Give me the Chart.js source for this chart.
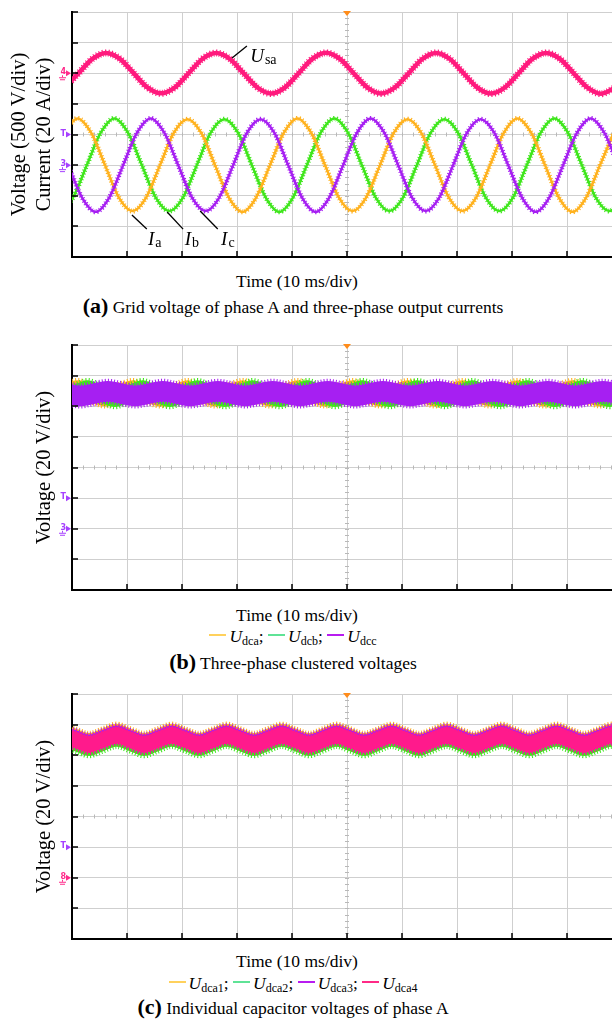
<!DOCTYPE html>
<html lang="en">
<head>
  <meta charset="UTF-8">
  <title>Grid voltage, output currents and capacitor voltages</title>
  <style>
    html, body {
      margin: 0;
      padding: 0;
      background: #fff;
      overflow: hidden;
    }

    #page {
      position: relative;
      width: 612px;
      height: 1024px;
      overflow: hidden;
    }

    .panel {
      position: absolute;
      left: 0;
      width: 622px;
      height: 262px;
    }

    /* text under each scope picture */
    .txt {
      position: absolute;
      left: 0;
      width: 586px;
      text-align: center;
      font-family: 'Liberation Serif', serif;
      font-size: 17.5px;
      line-height: 20px;
      color: #000;
      white-space: nowrap;
    }
    .txt.time { width: 594px; }
    .txt b { font-size: 22px; }
    .txt sub { font-size: 12px; vertical-align: -3px; line-height: 0; }
    .sw {
      display: inline-block;
      width: 17px;
      height: 2px;
      vertical-align: 6px;
      margin-right: 3px;
    }
  </style>
</head>
<body>

<div id="page">
  <div class="panel" style="top:0"><canvas id="chartA" width="622" height="262"></canvas></div>
  <div class="txt time" style="top:271px">Time (10 ms/div)</div>
  <div class="txt" style="top:296px"><b>(a)</b> Grid voltage of phase A and three-phase output currents</div>

  <div class="panel" style="top:333px"><canvas id="chartB" width="622" height="262"></canvas></div>
  <div class="txt time" style="top:605px">Time (10 ms/div)</div>
  <div class="txt" style="top:626px"><span class="sw" style="background:#ffd15c"></span><i>U</i><sub>dca</sub>; <span class="sw" style="background:#5fe396"></span><i>U</i><sub>dcb</sub>; <span class="sw" style="background:#b81cf0"></span><i>U</i><sub>dcc</sub></div>
  <div class="txt" style="top:652px"><b>(b)</b> Three-phase clustered voltages</div>

  <div class="panel" style="top:682px"><canvas id="chartC" width="622" height="262"></canvas></div>
  <div class="txt time" style="top:951px">Time (10 ms/div)</div>
  <div class="txt" style="top:973px"><span class="sw" style="background:#ffd15c"></span><i>U</i><sub>dca1</sub>; <span class="sw" style="background:#5fe396"></span><i>U</i><sub>dca2</sub>; <span class="sw" style="background:#b81cf0"></span><i>U</i><sub>dca3</sub>; <span class="sw" style="background:#ff2a86"></span><i>U</i><sub>dca4</sub></div>
  <div class="txt" style="top:997px"><b>(c)</b> Individual capacitor voltages of phase A</div>
</div>

<script src="https://cdn.jsdelivr.net/npm/chart.js"></script>

<script>
  // ---- (a) grid voltage (V) and output currents (A), time in ms ----
  var usaTime = [-1.3, 1.2, 3.7, 6.2, 8.7, 11.2, 13.7, 16.2, 18.7, 21.2, 23.7, 26.2, 28.7, 31.2, 33.7, 36.2,
    38.7, 41.2, 43.7, 46.2, 48.7, 51.2, 53.7, 56.2, 58.7, 61.2, 63.7, 66.2, 68.7, 71.2, 73.7, 76.2,
    78.7, 81.2, 83.7, 86.2, 88.7, 91.2, 93.7, 96.2, 98.7];
  var usaVolts = [-232, 0, 234, 332, 235, 2, -231, -328,
    -232, -1, 233, 330, 233, 0, -233, -331,
    -234, 0, 235, 333, 234, 1, -232, -330,
    -233, -2, 233, 331, 233, 0, -234, -332,
    -233, 0, 234, 332, 235, 1, -233, -334,
    -236];

  var iaTime = [-1.5, 1, 3.5, 6, 8.5, 11, 13.5, 16, 18.5, 21, 23.5, 26, 28.5, 31, 33.5, 36,
    38.5, 41, 43.5, 46, 48.5, 51, 53.5, 56, 58.5, 61, 63.5, 66, 68.5, 71, 73.5, 76,
    78.5, 81, 83.5, 86, 88.5, 91, 93.5, 96, 98.5];
  var iaAmps = [21, 30.5, 21, 0, -21, -30, -21, 0,
    21, 30, 21, 0, -21, -30.5, -21, 0,
    21, 30.5, 21, 0, -21, -30, -21, 0,
    21, 30, 21, 0, -21, -30, -21, 0,
    21, 30.5, 21, 0, -21, -30.5, -21, 0,
    21];

  var ibTime = [-2.3, 0.2, 2.7, 5.2, 7.7, 10.2, 12.7, 15.2, 17.7, 20.2, 22.7, 25.2, 27.7, 30.2, 32.7, 35.2,
    37.7, 40.2, 42.7, 45.2, 47.7, 50.2, 52.7, 55.2, 57.7, 60.2, 62.7, 65.2, 67.7, 70.2, 72.7, 75.2,
    77.7, 80.2, 82.7, 85.2, 87.7, 90.2, 92.7, 95.2, 97.7, 100.2];
  var ibAmps = [-30, -21, 0, 21, 30.5, 21, 0, -21,
    -30, -21, 0, 21, 30, 21, 0, -21,
    -30.5, -21, 0, 21, 30.5, 21, 0, -21,
    -30, -21, 0, 21, 30, 21, 0, -21,
    -30, -21, 0, 21, 30.5, 21, 0, -21,
    -30, -21];

  var icTime = [-0.7, 1.8, 4.3, 6.8, 9.3, 11.8, 14.3, 16.8, 19.3, 21.8, 24.3, 26.8, 29.3, 31.8, 34.3, 36.8,
    39.3, 41.8, 44.3, 46.8, 49.3, 51.8, 54.3, 56.8, 59.3, 61.8, 64.3, 66.8, 69.3, 71.8, 74.3, 76.8,
    79.3, 81.8, 84.3, 86.8, 89.3, 91.8, 94.3, 96.8, 99.3];
  var icAmps = [0, -21, -30.5, -21, 0, 21, 30.5, 21,
    0, -21, -30, -21, 0, 21, 30, 21,
    0, -21, -30.5, -21, 0, 21, 30.5, 21,
    0, -21, -30, -21, 0, 21, 30, 21,
    0, -21, -30.5, -21, 0, 21, 30.5, 21,
    0];

  // ---- (b) clustered voltages: upper / lower edge of each noisy trace (V) ----
  var udcaTime = [-1.5, 1, 3.5, 6, 8.5, 11, 13.5, 16, 18.5, 21, 23.5, 26, 28.5, 31, 33.5, 36,
    38.5, 41, 43.5, 46, 48.5, 51, 53.5, 56, 58.5, 61, 63.5, 66, 68.5, 71, 73.5, 76,
    78.5, 81, 83.5, 86, 88.5, 91, 93.5, 96, 98.5];
  var udcaHigh = [94.5, 97, 94.5, 92, 94.5, 97, 94.5, 92, 94.5, 97, 94.5, 92, 94.5, 97, 94.5, 92,
    94.5, 97, 94.5, 92, 94.5, 97, 94.5, 92, 94.5, 97, 94.5, 92, 94.5, 97, 94.5, 92,
    94.5, 97, 94.5, 92, 94.5, 97, 94.5, 92, 94.5];
  var udcaLow = [82.5, 85, 82.5, 80, 82.5, 85, 82.5, 80, 82.5, 85, 82.5, 80, 82.5, 85, 82.5, 80,
    82.5, 85, 82.5, 80, 82.5, 85, 82.5, 80, 82.5, 85, 82.5, 80, 82.5, 85, 82.5, 80,
    82.5, 85, 82.5, 80, 82.5, 85, 82.5, 80, 82.5];

  var udcbTime = [-2.2, 0.3, 2.8, 5.3, 7.8, 10.3, 12.8, 15.3, 17.8, 20.3, 22.8, 25.3, 27.8, 30.3, 32.8, 35.3,
    37.8, 40.3, 42.8, 45.3, 47.8, 50.3, 52.8, 55.3, 57.8, 60.3, 62.8, 65.3, 67.8, 70.3, 72.8, 75.3,
    77.8, 80.3, 82.8, 85.3, 87.8, 90.3, 92.8, 95.3, 97.8, 100.3];
  var udcbHigh = [91.5, 94, 97, 94, 91.5, 94, 97, 94, 91.5, 94, 97, 94, 91.5, 94, 97, 94,
    91.5, 94, 97, 94, 91.5, 94, 97, 94, 91.5, 94, 97, 94, 91.5, 94, 97, 94,
    91.5, 94, 97, 94, 91.5, 94, 97, 94, 91.5, 94];
  var udcbLow = [79.5, 82.5, 86, 82.5, 79.5, 82.5, 86, 82.5, 79.5, 82.5, 86, 82.5, 79.5, 82.5, 86, 82.5,
    79.5, 82.5, 86, 82.5, 79.5, 82.5, 86, 82.5, 79.5, 82.5, 86, 82.5, 79.5, 82.5, 86, 82.5,
    79.5, 82.5, 86, 82.5, 79.5, 82.5, 86, 82.5, 79.5, 82.5];

  var udccTime = [-1, 1.5, 4, 6.5, 9, 11.5, 14, 16.5, 19, 21.5, 24, 26.5, 29, 31.5, 34, 36.5,
    39, 41.5, 44, 46.5, 49, 51.5, 54, 56.5, 59, 61.5, 64, 66.5, 69, 71.5, 74, 76.5,
    79, 81.5, 84, 86.5, 89, 91.5, 94, 96.5, 99];
  var udccHigh = [95, 93.5, 95, 96.5, 95, 93.5, 95, 96.5, 95, 93.5, 95, 96.5, 95, 93.5, 95, 96.5,
    95, 93.5, 95, 96.5, 95, 93.5, 95, 96.5, 95, 93.5, 95, 96.5, 95, 93.5, 95, 96.5,
    95, 93.5, 95, 96.5, 95, 93.5, 95, 96.5, 95];
  var udccLow = [81.5, 80, 81.5, 83, 81.5, 80, 81.5, 83, 81.5, 80, 81.5, 83, 81.5, 80, 81.5, 83,
    81.5, 80, 81.5, 83, 81.5, 80, 81.5, 83, 81.5, 80, 81.5, 83, 81.5, 80, 81.5, 83,
    81.5, 80, 81.5, 83, 81.5, 80, 81.5, 83, 81.5];

  // ---- (c) capacitor voltages of phase A: upper / lower edge (V) ----
  var cellTime = [-1.9, 0.6, 3.1, 5.6, 8.1, 10.6, 13.1, 15.6, 18.1, 20.6, 23.1, 25.6, 28.1, 30.6, 33.1, 35.6,
    38.1, 40.6, 43.1, 45.6, 48.1, 50.6, 53.1, 55.6, 58.1, 60.6, 63.1, 65.6, 68.1, 70.6, 73.1, 75.6,
    78.1, 80.6, 83.1, 85.6, 88.1, 90.6, 93.1, 95.6, 98.1, 100.6];
  var dca1High = [100.5, 97.5, 94.5, 97.5, 100.5, 97.5, 94.5, 97.5, 100.5, 97.5, 94.5, 97.5, 100.5, 97.5, 94.5, 97.5,
    100.5, 97.5, 94.5, 97.5, 100.5, 97.5, 94.5, 97.5, 100.5, 97.5, 94.5, 97.5, 100.5, 97.5, 94.5, 97.5,
    100.5, 97.5, 94.5, 97.5, 100.5, 97.5, 94.5, 97.5, 100.5, 97.5];
  var dca1Low = [89, 86, 83, 86, 89, 86, 83, 86, 89, 86, 83, 86, 89, 86, 83, 86,
    89, 86, 83, 86, 89, 86, 83, 86, 89, 86, 83, 86, 89, 86, 83, 86,
    89, 86, 83, 86, 89, 86, 83, 86, 89, 86];
  var dca2High = [97.5, 94.5, 91.5, 94.5, 97.5, 94.5, 91.5, 94.5, 97.5, 94.5, 91.5, 94.5, 97.5, 94.5, 91.5, 94.5,
    97.5, 94.5, 91.5, 94.5, 97.5, 94.5, 91.5, 94.5, 97.5, 94.5, 91.5, 94.5, 97.5, 94.5, 91.5, 94.5,
    97.5, 94.5, 91.5, 94.5, 97.5, 94.5, 91.5, 94.5, 97.5, 94.5];
  var dca2Low = [85.5, 82.5, 79.5, 82.5, 85.5, 82.5, 79.5, 82.5, 85.5, 82.5, 79.5, 82.5, 85.5, 82.5, 79.5, 82.5,
    85.5, 82.5, 79.5, 82.5, 85.5, 82.5, 79.5, 82.5, 85.5, 82.5, 79.5, 82.5, 85.5, 82.5, 79.5, 82.5,
    85.5, 82.5, 79.5, 82.5, 85.5, 82.5, 79.5, 82.5, 85.5, 82.5];
  var dca3High = [99.5, 96.5, 93.5, 96.5, 99.5, 96.5, 93.5, 96.5, 99.5, 96.5, 93.5, 96.5, 99.5, 96.5, 93.5, 96.5,
    99.5, 96.5, 93.5, 96.5, 99.5, 96.5, 93.5, 96.5, 99.5, 96.5, 93.5, 96.5, 99.5, 96.5, 93.5, 96.5,
    99.5, 96.5, 93.5, 96.5, 99.5, 96.5, 93.5, 96.5, 99.5, 96.5];
  var dca3Low = [88, 85, 82, 85, 88, 85, 82, 85, 88, 85, 82, 85, 88, 85, 82, 85,
    88, 85, 82, 85, 88, 85, 82, 85, 88, 85, 82, 85, 88, 85, 82, 85,
    88, 85, 82, 85, 88, 85, 82, 85, 88, 85];
  var dca4High = [98.5, 95.5, 92.5, 95.5, 98.5, 95.5, 92.5, 95.5, 98.5, 95.5, 92.5, 95.5, 98.5, 95.5, 92.5, 95.5,
    98.5, 95.5, 92.5, 95.5, 98.5, 95.5, 92.5, 95.5, 98.5, 95.5, 92.5, 95.5, 98.5, 95.5, 92.5, 95.5,
    98.5, 95.5, 92.5, 95.5, 98.5, 95.5, 92.5, 95.5, 98.5, 95.5];
  var dca4Low = [87.5, 84.5, 81.5, 84.5, 87.5, 84.5, 81.5, 84.5, 87.5, 84.5, 81.5, 84.5, 87.5, 84.5, 81.5, 84.5,
    87.5, 84.5, 81.5, 84.5, 87.5, 84.5, 81.5, 84.5, 87.5, 84.5, 81.5, 84.5, 87.5, 84.5, 81.5, 84.5,
    87.5, 84.5, 81.5, 84.5, 87.5, 84.5, 81.5, 84.5, 87.5, 84.5];

  // trace colours
  var PINK = '#ff1a7d', YELLOW = '#ffb21f', GREEN = '#3fe61c', PURPLE = '#a61ff2';
  var SERIF = "'Liberation Serif', serif";

  Chart.defaults.font.family = SERIF;

  function pts(times, values) {
    return times.map(function(t, i) { return {x: t, y: values[i]}; });
  }

  // a trace: a solid core plus a dashed, wider copy that gives the noisy scope look
  function trace(times, values, color, width, axis) {
    var data = pts(times, values);
    return [
      { data: data, yAxisID: axis, borderColor: color, borderWidth: width, pointRadius: 0,
        cubicInterpolationMode: 'monotone', fill: false, clip: 0 },
      { data: data, yAxisID: axis, borderColor: color, borderWidth: width + 2.5, pointRadius: 0,
        borderDash: [1, 2], borderCapStyle: 'butt',
        cubicInterpolationMode: 'monotone', fill: false, clip: 0 }
    ];
  }

  // a noisy trace drawn as the band between its upper and lower edge
  function band(times, high, low, color, axis) {
    var edge = { borderColor: color, borderWidth: 4.5, borderDash: [1, 2], borderCapStyle: 'butt',
      pointRadius: 0, cubicInterpolationMode: 'monotone', clip: 0, yAxisID: axis };
    return [
      Object.assign({ data: pts(times, high), backgroundColor: color, fill: '+1' }, edge),
      Object.assign({ data: pts(times, low), fill: false }, edge)
    ];
  }

  function gridColor(edgeValue) {
    return function(c) { return c.tick && c.tick.value === edgeValue ? 'rgba(0,0,0,0)' : '#cfcfcf'; };
  }

  function xScale() {
    return {
      type: 'linear', min: 0, max: 100,
      ticks: { display: false, stepSize: 10 },
      grid: { color: gridColor(0), drawTicks: false, lineWidth: 1 },
      border: { color: '#000', width: 2 },
      afterFit: function(s) { s.height = 0; }
    };
  }

  function yScale(min, max, step, title, titlePad) {
    return {
      type: 'linear', position: 'left', min: min, max: max,
      ticks: { display: false, stepSize: step },
      grid: { color: gridColor(min), drawTicks: false, lineWidth: 1 },
      border: { color: '#000', width: 2 },
      title: { display: true, text: title, color: '#000',
        font: { family: SERIF, size: 20.5, lineHeight: 1.2 }, padding: { top: titlePad, bottom: 0 } },
      afterFit: function(s) { s.width = 72; }
    };
  }

  // oscilloscope graticule details, channel markers and trace labels
  var scopeDecor = {
    id: 'scopeDecor',
    beforeDatasetsDraw: function(chart, args, o) {
      var ctx = chart.ctx, xs = chart.scales.x, ys = chart.scales[o.gridAxis];
      var cx = xs.getPixelForValue(50), cy = ys.getPixelForValue(o.centre);
      var sub = o.step / 5;
      ctx.save();
      ctx.strokeStyle = '#b8b8b8';
      ctx.lineWidth = 1;
      ctx.beginPath();
      for (var t = 2; t < 100; t += 2) {
        var x = Math.round(xs.getPixelForValue(t)) + 0.5;
        ctx.moveTo(x, cy - 2); ctx.lineTo(x, cy + 2);
      }
      for (var v = ys.min + sub; v < ys.max; v += sub) {
        var y = Math.round(ys.getPixelForValue(v)) + 0.5;
        ctx.moveTo(cx - 2, y); ctx.lineTo(cx + 2, y);
      }
      ctx.stroke();
      ctx.restore();
    },
    afterDatasetsDraw: function(chart, args, o) {
      var ctx = chart.ctx, a = chart.chartArea, xs = chart.scales.x, ys = chart.scales[o.gridAxis];
      ctx.save();

      // inward ticks on the left and bottom axes
      ctx.strokeStyle = '#000';
      ctx.lineWidth = 1.5;
      ctx.beginPath();
      ys.ticks.forEach(function(t) {
        var y = Math.round(ys.getPixelForValue(t.value));
        ctx.moveTo(a.left, y); ctx.lineTo(a.left + 6, y);
      });
      xs.ticks.forEach(function(t) {
        var x = Math.round(xs.getPixelForValue(t.value));
        ctx.moveTo(x, a.bottom); ctx.lineTo(x, a.bottom - 6);
      });
      ctx.stroke();

      // trigger position
      var tx = xs.getPixelForValue(50);
      ctx.fillStyle = '#ff8c1a';
      ctx.beginPath();
      ctx.moveTo(tx - 4, a.top - 1); ctx.lineTo(tx + 4, a.top - 1); ctx.lineTo(tx, a.top + 4);
      ctx.closePath();
      ctx.fill();

      // channel markers left of the axis
      o.markers.forEach(function(m) {
        var y = chart.scales[m.axis].getPixelForValue(m.value);
        var x = a.left - 1;
        ctx.fillStyle = m.color;
        ctx.strokeStyle = m.color;
        ctx.beginPath();
        ctx.moveTo(x, y); ctx.lineTo(x - 5, y - 3); ctx.lineTo(x - 5, y + 3);
        ctx.closePath();
        ctx.fill();
        ctx.font = 'bold 8px "DejaVu Sans"';
        ctx.textAlign = 'right';
        ctx.textBaseline = 'middle';
        ctx.fillText(m.text, x - 5, y - 1);
        if (m.ground) {
          ctx.lineWidth = 1;
          ctx.beginPath();
          ctx.moveTo(x - 8.5, y + 2); ctx.lineTo(x - 8.5, y + 4);
          ctx.moveTo(x - 12, y + 4.5); ctx.lineTo(x - 5, y + 4.5);
          ctx.moveTo(x - 11, y + 6.5); ctx.lineTo(x - 6, y + 6.5);
          ctx.stroke();
        }
      });

      // trace labels with leader lines
      (o.notes || []).forEach(function(n) {
        var sy = chart.scales[n.axis];
        ctx.strokeStyle = '#000';
        ctx.lineWidth = 1.3;
        ctx.beginPath();
        ctx.moveTo(xs.getPixelForValue(n.from[0]), sy.getPixelForValue(n.from[1]));
        ctx.lineTo(xs.getPixelForValue(n.to[0]), sy.getPixelForValue(n.to[1]));
        ctx.stroke();
        var x = xs.getPixelForValue(n.t), y = sy.getPixelForValue(n.v);
        ctx.fillStyle = '#000';
        ctx.textAlign = 'left';
        ctx.textBaseline = 'alphabetic';
        ctx.font = 'italic 19px ' + SERIF;
        ctx.fillText(n.main, x, y);
        var w = ctx.measureText(n.main).width;
        ctx.font = '14px ' + SERIF;
        ctx.fillText(n.sub, x + w + 1, y + 2);
      });

      ctx.restore();
    }
  };

  function makeChart(id, datasets, scales, decor) {
    return new Chart(document.getElementById(id), {
      type: 'line',
      data: { datasets: datasets },
      options: {
        responsive: false,
        animation: false,
        events: [],
        layout: { padding: { top: 12, bottom: 5, left: 0, right: 0 } },
        scales: scales,
        plugins: { legend: { display: false }, tooltip: { enabled: false }, scopeDecor: decor }
      },
      plugins: [scopeDecor]
    });
  }

  // (a)
  makeChart('chartA', [].concat(
    trace(usaTime, usaVolts, PINK, 4.5, 'yV'),
    trace(icTime, icAmps, PURPLE, 2.5, 'yI'),
    trace(iaTime, iaAmps, YELLOW, 2.5, 'yI'),
    trace(ibTime, ibAmps, GREEN, 2.5, 'yI')
  ), {
    x: xScale(),
    yV: yScale(-3000, 1000, 500, ['Voltage (500 V/div)', 'Current (20 A/div)'], 7.7),
    yI: { type: 'linear', display: false, min: -60, max: 100 }
  }, {
    gridAxis: 'yV', centre: -1000, step: 500,
    markers: [
      { axis: 'yV', value: 0, text: '4', color: '#ff2a8a', ground: true },
      { axis: 'yV', value: -1000, text: 'T', color: '#a640ff' },
      { axis: 'yI', value: 0, text: '3', color: '#a640ff', ground: true }
    ],
    notes: [
      { axis: 'yV', main: 'U', sub: 'sa', t: 32.4, v: 184, from: [29.1, 249], to: [31.8, 445] },
      { axis: 'yV', main: 'I', sub: 'a', t: 13.8, v: -2805, from: [10.9, -2315], to: [13.6, -2544] },
      { axis: 'yV', main: 'I', sub: 'b', t: 20.5, v: -2805, from: [17.3, -2266], to: [20.2, -2544] },
      { axis: 'yV', main: 'I', sub: 'c', t: 27.1, v: -2805, from: [23.3, -2250], to: [26.5, -2544] }
    ]
  });

  // (b)
  makeChart('chartB', [].concat(
    band(udccTime, udccHigh, udccLow, PURPLE, 'y'),
    band(udcbTime, udcbHigh, udcbLow, GREEN, 'y'),
    band(udcaTime, udcaHigh, udcaLow, YELLOW, 'y')
  ), {
    x: xScale(),
    y: yScale(-40, 120, 20, 'Voltage (20 V/div)', 32.7)
  }, {
    gridAxis: 'y', centre: 40, step: 20,
    markers: [
      { axis: 'y', value: 20, text: 'T', color: '#a640ff' },
      { axis: 'y', value: 0, text: '3', color: '#a640ff', ground: true }
    ]
  });

  // (c)
  makeChart('chartC', [].concat(
    band(cellTime, dca4High, dca4Low, '#ff1a8c', 'y'),
    band(cellTime, dca3High, dca3Low, PURPLE, 'y'),
    band(cellTime, dca2High, dca2Low, GREEN, 'y'),
    band(cellTime, dca1High, dca1Low, YELLOW, 'y')
  ), {
    x: xScale(),
    y: yScale(-40, 120, 20, 'Voltage (20 V/div)', 32.7)
  }, {
    gridAxis: 'y', centre: 40, step: 20,
    markers: [
      { axis: 'y', value: 20, text: 'T', color: '#a640ff' },
      { axis: 'y', value: 0, text: '8', color: '#ff2a8a', ground: true }
    ]
  });
</script>

</body>
</html>
